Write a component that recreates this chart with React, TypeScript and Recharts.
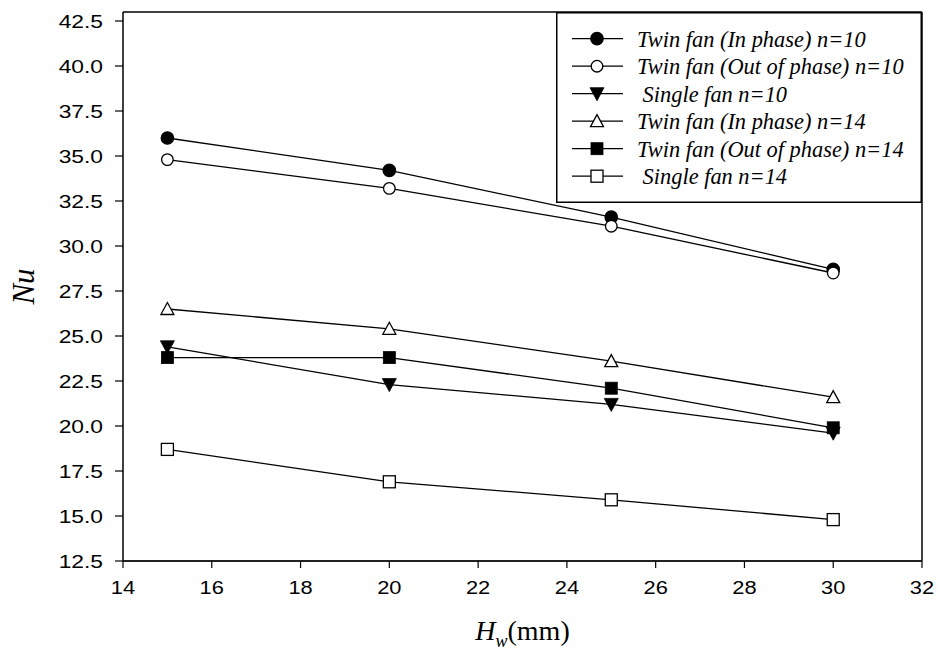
import React from "react";
import {
  LineChart,
  Line,
  XAxis,
  YAxis,
  Legend,
  ReferenceLine,
} from "recharts";

// H_w in mm
const hw = [15, 20, 25, 30];

// Nu values
const twinIn10 = [36.0, 34.2, 31.6, 28.7];
const twinOut10 = [34.8, 33.2, 31.1, 28.5];
const single10 = [24.4, 22.3, 21.2, 19.6];
const twinIn14 = [26.5, 25.4, 23.6, 21.6];
const twinOut14 = [23.8, 23.8, 22.1, 19.9];
const single14 = [18.7, 16.9, 15.9, 14.8];

const xTicks = [14, 16, 18, 20, 22, 24, 26, 28, 30, 32];
const yTicks = [12.5, 15, 17.5, 20, 22.5, 25, 27.5, 30, 32.5, 35, 37.5, 40, 42.5];

type Shape = "circleFilled" | "circleOpen" | "triDown" | "triUpOpen" | "sqFilled" | "sqOpen";

const series: { key: string; name: string; values: number[]; shape: Shape }[] = [
  { key: "twinIn10", name: "Twin fan (In phase) n=10", values: twinIn10, shape: "circleFilled" },
  { key: "twinOut10", name: "Twin fan (Out of phase) n=10", values: twinOut10, shape: "circleOpen" },
  { key: "single10", name: " Single fan n=10", values: single10, shape: "triDown" },
  { key: "twinIn14", name: "Twin fan (In phase) n=14", values: twinIn14, shape: "triUpOpen" },
  { key: "twinOut14", name: "Twin fan (Out of phase) n=14", values: twinOut14, shape: "sqFilled" },
  { key: "single14", name: " Single fan n=14", values: single14, shape: "sqOpen" },
];

const data = hw.map((x, i) => {
  const row: Record<string, number> = { hw: x };
  series.forEach((s) => (row[s.key] = s.values[i]));
  return row;
});

const SERIF = "'Liberation Serif', 'Times New Roman', serif";
const SANS = "'Liberation Sans', Arial, sans-serif";

function Marker({ cx, cy, shape }: { cx: number; cy: number; shape: Shape }) {
  const sw = 1.3;
  switch (shape) {
    case "circleFilled":
      return <circle cx={cx} cy={cy} r={6.2} fill="#000" stroke="#000" strokeWidth={sw} />;
    case "circleOpen":
      return <circle cx={cx} cy={cy} r={5.8} fill="#fff" stroke="#000" strokeWidth={sw} />;
    case "triDown":
      return (
        <path
          d={`M${cx - 7},${cy - 6} L${cx + 7},${cy - 6} L${cx},${cy + 7} Z`}
          fill="#000"
          stroke="#000"
          strokeWidth={0.8}
        />
      );
    case "triUpOpen":
      return (
        <path
          d={`M${cx - 6.5},${cy + 5.5} L${cx + 6.5},${cy + 5.5} L${cx},${cy - 6.5} Z`}
          fill="#fff"
          stroke="#000"
          strokeWidth={sw}
        />
      );
    case "sqFilled":
      return <rect x={cx - 6} y={cy - 6} width={12} height={12} fill="#000" stroke="#000" strokeWidth={0.8} />;
    case "sqOpen":
      return <rect x={cx - 6} y={cy - 6} width={12} height={12} fill="#fff" stroke="#000" strokeWidth={sw} />;
  }
}

// tick text in the source is a bit wide, so stretch it horizontally
const YTick = (props: any) => (
  <text
    transform={`translate(${props.x - 12},${props.y + 6.5}) scale(1.2,1)`}
    textAnchor="end"
    fontFamily={SANS}
    fontSize={19}
    fill="#000"
  >
    {Number(props.payload.value).toFixed(1)}
  </text>
);

const XTick = (props: any) => (
  <text
    transform={`translate(${props.x},${props.y + 26}) scale(1.15,1)`}
    textAnchor="middle"
    fontFamily={SANS}
    fontSize={19}
    fill="#000"
  >
    {props.payload.value}
  </text>
);

function LegendBox() {
  return (
    <svg width={366} height={191} style={{ display: "block" }}>
      <rect x={0.75} y={0.75} width={364.5} height={189.5} fill="#fff" stroke="#000" strokeWidth={1.5} />
      {series.map((s, i) => {
        const cy = 26.7 + i * 27.5;
        return (
          <g key={s.key}>
            <line x1={16} x2={67} y1={cy} y2={cy} stroke="#000" strokeWidth={1.3} />
            <Marker cx={41} cy={cy} shape={s.shape} />
            <text
              x={81}
              y={cy + 8}
              fontFamily={SERIF}
              fontStyle="italic"
              fontSize={22.4}
              fill="#000"
              style={{ whiteSpace: "pre" }}
            >
              {s.name}
            </text>
          </g>
        );
      })}
    </svg>
  );
}

export default function App() {
  return (
    <div style={{ position: "absolute", left: 0, top: 0, width: 938, height: 660, background: "#fff" }}>
      <LineChart width={938} height={660} data={data} margin={{ top: 12, right: 16, left: 0, bottom: 0 }}>
        <XAxis
          dataKey="hw"
          type="number"
          domain={[14, 32]}
          ticks={xTicks}
          interval={0}
          allowDataOverflow
          height={99}
          tickSize={7}
          tickMargin={0}
          tick={<XTick />}
          axisLine={{ stroke: "#222", strokeWidth: 2 }}
          tickLine={{ stroke: "#000", strokeWidth: 1.2 }}
          label={{
            content: (p: any) => {
              const vb = p.viewBox;
              return (
                <text x={vb.x + vb.width / 2} y={640} textAnchor="middle" fontFamily={SERIF} fontSize={28} fill="#000">
                  <tspan fontStyle="italic">H</tspan>
                  <tspan fontStyle="italic" fontSize={18} dy={7}>w</tspan>
                  <tspan dy={-7}>(mm)</tspan>
                </text>
              );
            },
          }}
        />
        <YAxis
          type="number"
          domain={[12.5, 43]}
          ticks={yTicks}
          interval={0}
          allowDataOverflow
          width={123}
          tickSize={8}
          tickMargin={0}
          tick={<YTick />}
          axisLine={{ stroke: "#000", strokeWidth: 1.5 }}
          tickLine={{ stroke: "#000", strokeWidth: 1.2 }}
          label={{
            content: (p: any) => {
              const vb = p.viewBox;
              const cy = vb.y + vb.height / 2;
              return (
                <text
                  x={34}
                  y={cy}
                  transform={`rotate(-90 34 ${cy})`}
                  textAnchor="middle"
                  fontFamily={SERIF}
                  fontStyle="italic"
                  fontSize={31}
                  fill="#000"
                >
                  Nu
                </text>
              );
            },
          }}
        />
        <ReferenceLine y={43} stroke="#000" strokeWidth={1.5} />
        <ReferenceLine x={32} stroke="#000" strokeWidth={1.5} />
        {series.map((s) => (
          <Line
            key={s.key}
            dataKey={s.key}
            name={s.name}
            stroke="#000"
            strokeWidth={1.3}
            isAnimationActive={false}
            dot={(p: any) => <Marker key={`${s.key}-${p.index}`} cx={p.cx} cy={p.cy} shape={s.shape} />}
            activeDot={false}
          />
        ))}
        <Legend
          layout="horizontal"
          verticalAlign="middle"
          align="center"
          content={() => <LegendBox />}
          wrapperStyle={{ left: 556, top: 12, width: 366, height: 191 }}
        />
      </LineChart>
    </div>
  );
}
